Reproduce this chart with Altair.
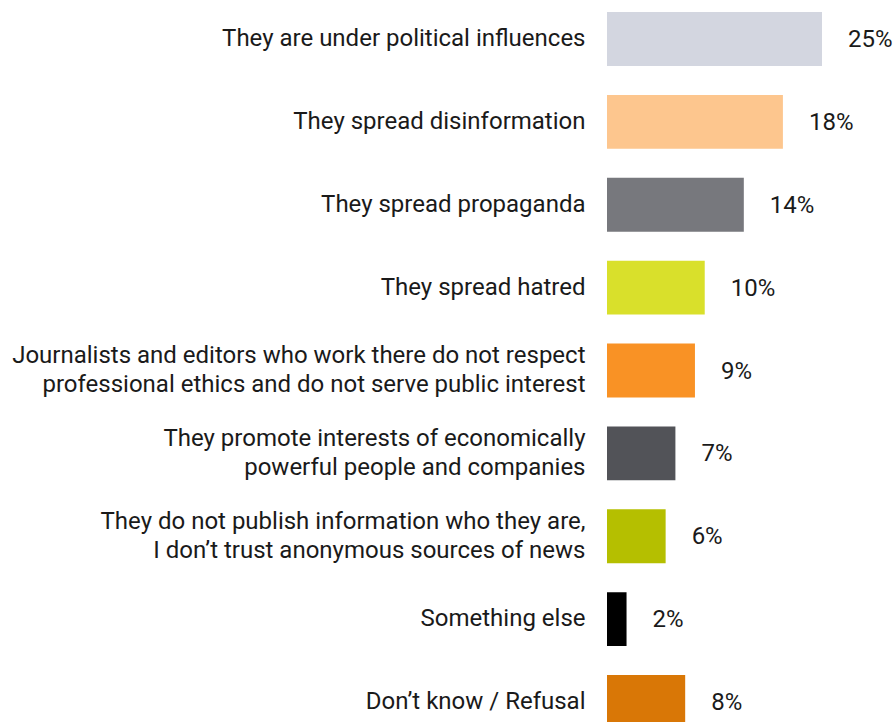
import altair as alt
import pandas as pd

categories = [
    "They are under political influences",
    "They spread disinformation",
    "They spread propaganda",
    "They spread hatred",
    "Journalists and editors who work there do not respect\nprofessional ethics and do not serve public interest",
    "They promote interests of economically\npowerful people and companies",
    "They do not publish information who they are,\nI don\u2019t trust anonymous sources of news",
    "Something else",
    "Don\u2019t know / Refusal",
]
values = [25, 18, 14, 10, 9, 7, 6, 2, 8]
colors = ["#d3d6e0", "#fdc68e", "#77787d", "#d9e02b", "#f99225",
          "#525358", "#b5bf00", "#000000", "#d97706"]

df = pd.DataFrame({"category": categories, "value": values})
df["label"] = df["value"].astype(str) + "%"

y = alt.Y(
    "category:N",
    sort=categories,
    scale=alt.Scale(range=[0, 741], paddingInner=0.349, paddingOuter=0.145),
    axis=alt.Axis(
        title=None, ticks=False, domain=False, labelPadding=22,
        labelFont="Roboto", labelFontSize=24, labelColor="#1a1a1a",
        labelLimit=700, labelLineHeight=29,
        labelExpr="split(datum.value, '\\n')",
        labelOffset={"condition": {"test": "indexof(datum.value, '\\n') >= 0", "value": -14.5}, "value": 0},
    ),
)
x = alt.X("value:Q", scale=alt.Scale(domain=[0, 22], clamp=True), axis=None)

bars = alt.Chart(df).mark_bar().encode(
    x=x, y=y,
    color=alt.Color("category:N", scale=alt.Scale(domain=categories, range=colors), legend=None),
)
text = alt.Chart(df).mark_text(
    align="left", baseline="middle", dx=26, dy=1,
    font="Roboto", fontSize=24, color="#1a1a1a",
).encode(x=x, y=alt.Y("category:N", sort=categories), text="label:N")

chart = (
    alt.layer(bars, text)
    .properties(
        width=215, height=722,
        autosize=alt.AutoSizeParams(type="none"),
        padding={"left": 607, "top": 0, "right": 72, "bottom": 0},
    )
    .configure_view(stroke=None)
)

chart.save("out.html", embed_options={"renderer": "svg", "actions": False})
